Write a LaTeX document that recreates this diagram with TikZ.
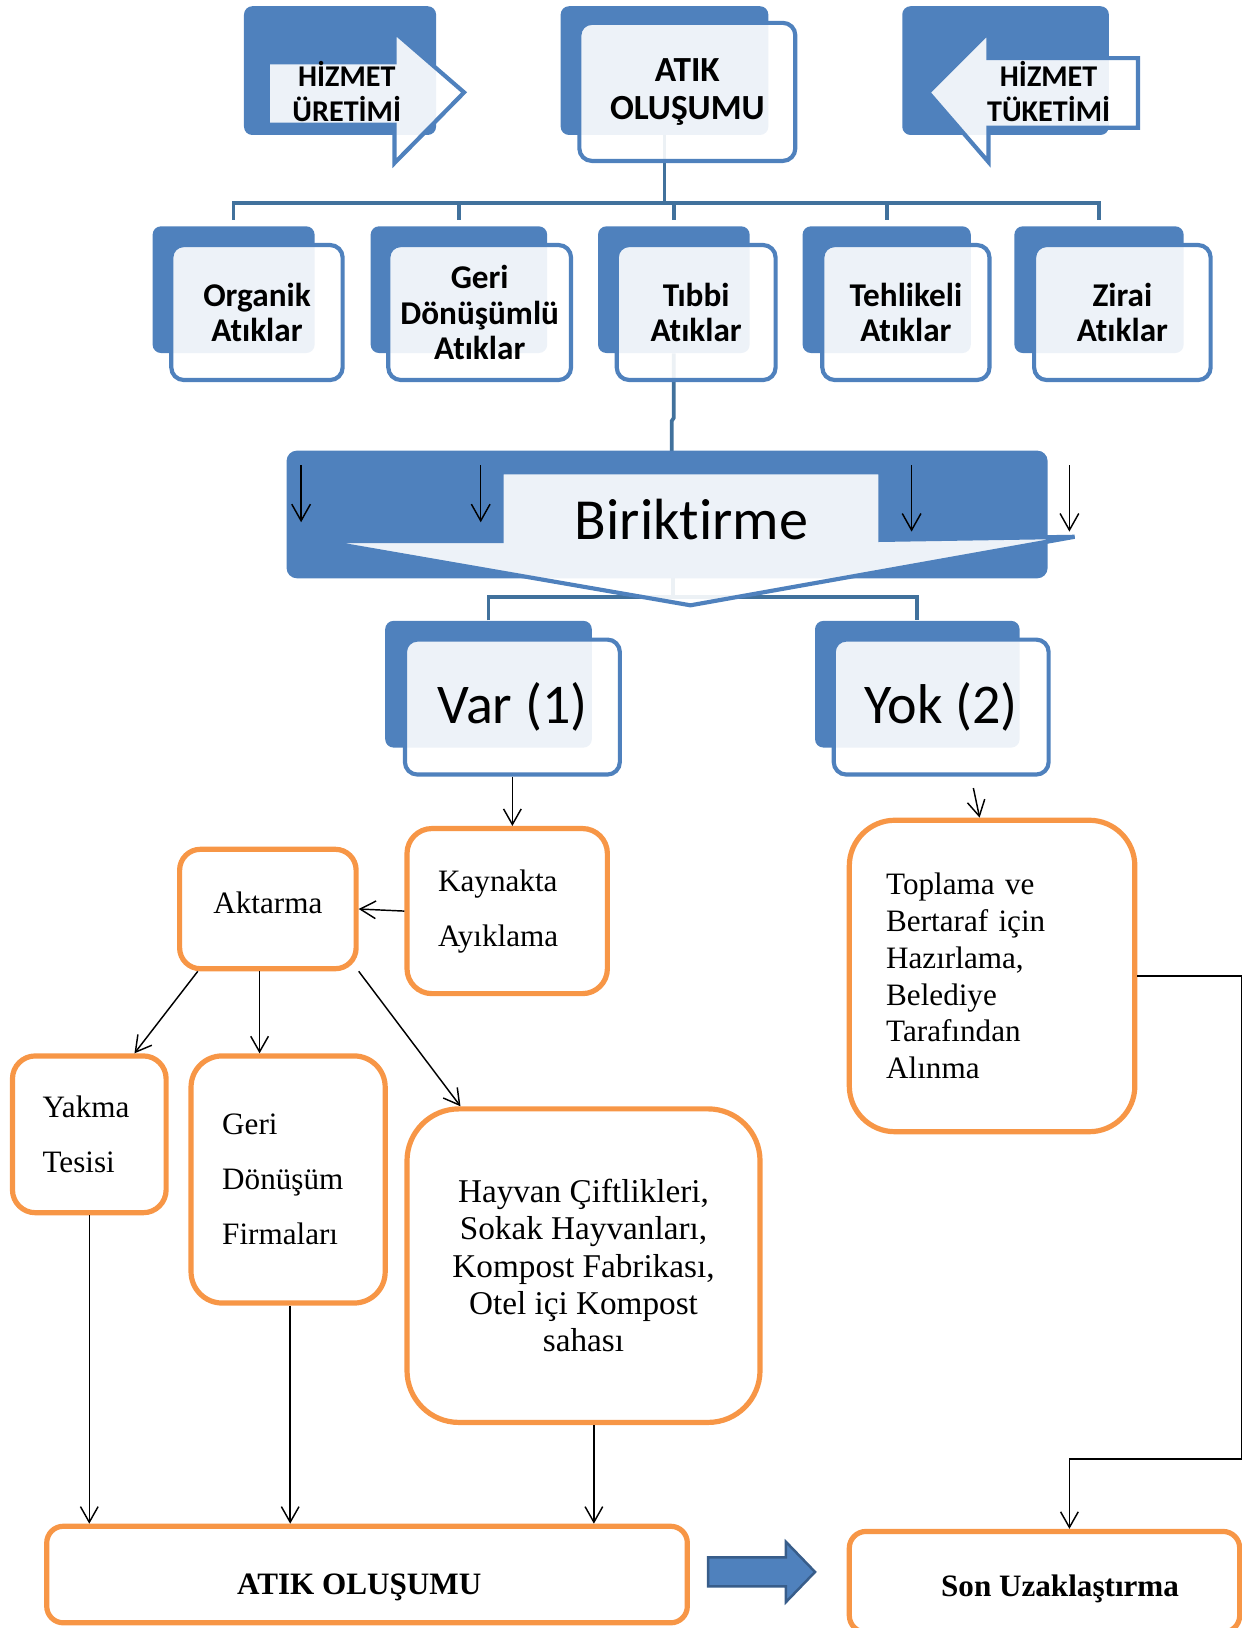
\documentclass[tikz,border=0pt]{standalone}
\usepackage{fontspec}
\setmainfont{Liberation Serif}
\newfontfamily\calfont[Ligatures=NoCommon]{Carlito}
\usetikzlibrary{arrows.meta,calc,backgrounds}
\definecolor{sblue}{HTML}{4F81BD}
\definecolor{lblue}{HTML}{41719C}
\definecolor{dblue}{HTML}{385D8A}
\definecolor{sorange}{HTML}{F79646}
\newcommand{\lowered}[2]{\raisebox{#1}[\height][\depth]{#2}}
\begin{document}
\begin{tikzpicture}[x=0.5pt,y=-0.5pt,
  pos box/.style args={#1/#2/#3/#4}{at={({(#1+#3)/2},{(#2+#4)/2})}, minimum width={(#3-#1)*0.5pt}, minimum height={(#4-#2)*0.5pt}},
  dbox/.style={fill=sblue, draw=none, rounded corners=4pt, inner sep=0pt},
  ibox/.style={draw=sblue, line width=2pt, fill=white, fill opacity=0.9, text opacity=1, rounded corners=6pt, inner sep=0pt, align=center},
  lshape/.style={draw=sblue, line width=2pt, fill=white, fill opacity=0.9},
  obox/.style={draw=sorange, line width=2.5pt, fill=white, inner sep=0pt},
  bconn/.style={draw=lblue, line width=1.8pt},
  conn/.style={draw=black, line width=0.7pt, -{Straight Barb[length=7.5pt,width=8.5pt]}},
  sarrow/.style={draw=black, line width=0.7pt, -{Straight Barb[length=8pt,width=9pt]}},
  hfont/.style={font=\calfont\bfseries\fontsize{14.5}{17}\selectfont},
  afont/.style={font=\calfont\bfseries\fontsize{17}{18.5}\selectfont},
  cfont/.style={font=\calfont\bfseries\fontsize{16}{17}\selectfont},
  vfont/.style={font=\calfont\fontsize{27}{30}\selectfont},
  tfont/.style={font=\fontsize{15}{26.5}\selectfont},
  hayfont/.style={font=\fontsize{16}{18}\selectfont},
  topfont/.style={font=\fontsize{15}{17.7}\selectfont},
  bbfont/.style={font=\bfseries\fontsize{15}{18}\selectfont}
]
\useasboundingbox (0,0) rectangle (1196,1568);

% ---------- top row ----------
\node[dbox, pos box=235/6/420/130] (hurD) {};
\draw[lshape] (258,60) -- (380,60) -- (380,31) -- (447,89) -- (380,157) -- (380,120) -- (258,120) -- cycle;
\node[hfont, align=center] (hurT) at (334,88) {HİZMET\\ÜRETİMİ};

\node[dbox, pos box=540/6/740/130] (atikD) {};
\node[ibox, afont, pos box=558/22/766/155] (atikI) {ATIK\\OLUŞUMU};

\node[dbox, pos box=869/6/1068/130] (htkD) {};
\draw[lshape] (1096,56) -- (952,56) -- (952,31) -- (894,89) -- (952,156) -- (952,123) -- (1096,123) -- cycle;
\node[hfont, align=center] (htkT) at (1010,88) {HİZMET\\TÜKETİMİ};

% ---------- second row ----------
\node[dbox, pos box=147/218/303/340] (orgD) {};
\node[ibox, cfont, pos box=165/236/330/366] (orgI) {Organik\\Atıklar};
\node[dbox, pos box=357/218/527/340] (genD) {};
\node[ibox, cfont, pos box=374/236/550/366] (genI) {Geri\\Dönüşümlü\\Atıklar};
\node[dbox, pos box=576/218/722/340] (tibD) {};
\node[ibox, cfont, pos box=594/236/747/366] (tibI) {Tıbbi\\Atıklar};
\node[dbox, pos box=773/218/935/340] (tehD) {};
\node[ibox, cfont, pos box=792/236/953/366] (tehI) {Tehlikeli\\Atıklar};
\node[dbox, pos box=977/218/1140/340] (zirD) {};
\node[ibox, cfont, pos box=996/236/1166/366] (zirI) {Zirai\\Atıklar};

% ---------- Biriktirme ----------
\node[dbox, rounded corners=5pt, pos box=276/434/1009/557] (birD) {};
\draw[lshape] (483,455) -- (848,455) -- (848,520) -- (1035,517) -- (665,583) -- (308,521) -- (483,521) -- cycle;
\node[font=\calfont\fontsize{28}{30}\selectfont] (birT) at (666,500) {Biriktirme};
\foreach \i/\x/\y in {1/290/503, 2/463/503, 3/878/512, 4/1030/512} {
  \coordinate (s\i) at (\x,448);
  \coordinate (e\i) at (\x,\y);
  \draw[sarrow] (s\i) -- (e\i);
}

% ---------- Var / Yok ----------
\node[dbox, pos box=371/598/570/720] (varD) {};
\node[ibox, vfont, pos box=390/616/597/746] (varI) {Var (1)};
\node[dbox, pos box=785/598/982/720] (yokD) {};
\node[ibox, vfont, pos box=803/616/1010/746] (yokI) {Yok (2)};

% ---------- blue connectors (behind) ----------
\begin{pgfonlayer}{background}
\coordinate (hub) at ($(atikD.south)+(0,65)$);
\draw[bconn] (atikD.south) -- (hub);
\draw[bconn] ([yshift=3pt]orgD.north) |- (hub) -| ([yshift=3pt]zirD.north);
\foreach \n in {genD,tibD,tehD} \draw[bconn] ([yshift=3pt]\n.north) -- (\n.north |- hub);
\draw[bconn] (tibD.south) -- ++(0,62) -- ++(-2,3) -- ++(0,29);
\coordinate (hub2) at (648,575);
\draw[bconn] (hub2) -- ++(0,-30);
\draw[bconn] (varD.north) |- (hub2) -| (yokD.north);
\end{pgfonlayer}

% ---------- orange boxes ----------
\node[obox, tfont, rounded corners=12pt, pos box=392/798/585/957, text width=66.5pt, align=left] (kay) {Kaynakta\\Ayıklama};
\node[obox, tfont, rounded corners=10pt, pos box=173/818/343/933, align=center] (akt) {\lowered{3pt}{Aktarma}};
\node[obox, tfont, rounded corners=11pt, pos box=12/1017/160/1168, text width=45pt, align=left] (yak) {Yakma\\Tesisi};
\node[obox, tfont, rounded corners=15pt, pos box=184/1017/371/1255, text width=63.5pt, align=left] (ger) {Geri\\Dönüşüm\\Firmaları};
\node[obox, hayfont, rounded corners=25pt, pos box=392/1068/732/1370, align=center] (hay) {Hayvan Çiftlikleri,\\Sokak Hayvanları,\\Kompost Fabrikası,\\Otel içi Kompost\\sahası};
\node[obox, topfont, rounded corners=22pt, pos box=818/790/1093/1090, text width=102pt, align=left] (top) {Toplama ve\\Bertaraf için\\Hazırlama,\\Belediye\\Tarafından\\Alınma};
\node[obox, bbfont, rounded corners=8pt, pos box=45/1470/662/1563] (atikB) {\lowered{-6pt}{ATIK OLUŞUMU}\hspace*{7.5pt}};
\node[obox, bbfont, rounded corners=8pt, pos box=818/1475/1194/1572] (son) {\hspace*{15pt}\lowered{-3.5pt}{Son Uzaklaştırma}};

% block arrow
\draw[fill=sblue, draw=dblue, line width=1.2pt] (682,1500) -- (757,1500) -- (757,1485) -- (785,1514) -- (757,1543) -- (757,1528) -- (682,1528) -- cycle;

% ---------- black connectors ----------
\draw[conn] (varI.south) -- (varI.south |- kay.north);
\draw[conn] ($(yokI.south)+(31,11)$) -- ($(top.north)+(-12,0)$);
\draw[conn] (kay.west) -- (akt.east);
\draw[conn] ($(akt.south west)+(20,0)$) -- ($(yak.north east)+(-33,0)$);
\coordinate (a2) at ($(akt.south)+(-8,0)$);
\draw[conn] (a2) -- (a2 |- ger.north);
\draw[conn] (akt.south east) -- ($(hay.north west)+(54,0)$);
\draw[conn] (yak.south) -- (yak.south |- atikB.north);
\coordinate (g2) at ($(ger.south)+(2,0)$);
\draw[conn] (g2) -- (g2 |- atikB.north);
\coordinate (h2) at ($(hay.south)+(10,0)$);
\draw[conn] (h2) -- (h2 |- atikB.north);
\coordinate (sonA) at ($(son.north)+(24,0)$);
\draw[conn] (top.east) -- ++(100,0) -- ++(0,465) -| (sonA);
\end{tikzpicture}
\end{document}
